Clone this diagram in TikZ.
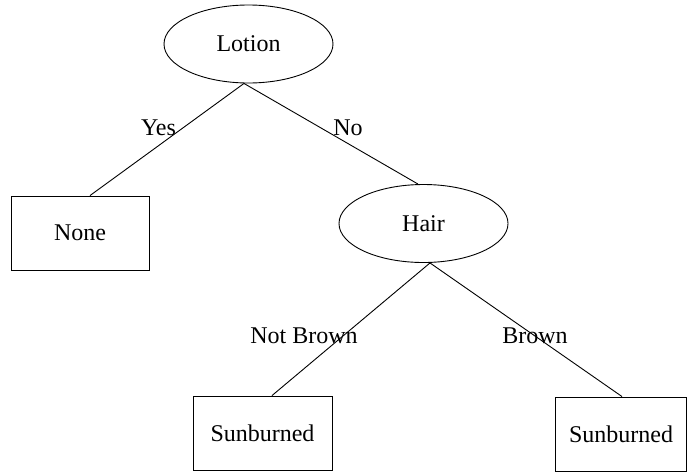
\documentclass[tikz,border=0pt]{standalone}
\usepackage{fontspec}
\setmainfont{Liberation Serif}
\usetikzlibrary{shapes.geometric}
\begin{document}
\begin{tikzpicture}[x=1pt,y=-1pt,
  every node/.style={font=\fontsize{24}{28}\selectfont},
  decision/.style={draw, ellipse, line width=0.9pt, minimum width=169pt, minimum height=78pt, inner sep=0pt},
  leaf/.style={draw, rectangle, line width=0.9pt, minimum height=74pt, inner sep=0pt},
  edge/.style={line width=0.9pt},
  lbl/.style={anchor=base, inner sep=0pt}]
\useasboundingbox (0,0) rectangle (687,472);
\node[decision] (lotion) at (248.5,44) {Lotion};
\node[decision] (hair) at (423.5,223.5) {Hair};
\node[leaf, minimum width=138pt] (none) at (80,233) {None};
\node[leaf, minimum width=139pt] (sunL) at (262.5,433) {Sunburned};
\node[leaf, minimum width=131pt] (sunR) at (621,434) {Sunburned};
\draw[edge] ([xshift=-4.5pt]lotion.south) -- ([xshift=10pt]none.north);
\draw[edge] ([xshift=-4.5pt]lotion.south) -- ([xshift=-5.5pt]hair.north);
\draw[edge] ([xshift=6.5pt]hair.south) -- ([xshift=9.5pt]sunL.north);
\draw[edge] ([xshift=6.5pt]hair.south) -- ([xshift=1pt]sunR.north);
\node[lbl] (yes) at (158.5,135) {Yes};
\node[lbl] (no) at (348,135) {No};
\node[lbl] (notbrown) at (304,343) {Not Brown};
\node[lbl] (brown) at (535,343) {Brown};
\end{tikzpicture}
\end{document}
